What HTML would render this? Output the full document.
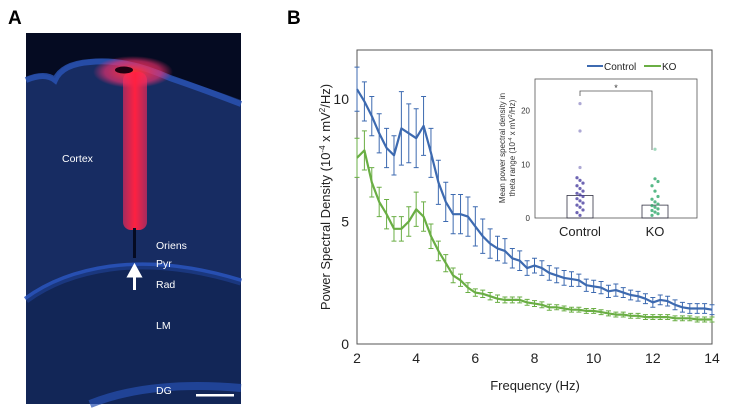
<!DOCTYPE html>
<html><head><meta charset="utf-8"><style>
body{margin:0;background:#fff;width:729px;height:414px;overflow:hidden;font-family:"Liberation Sans",sans-serif;}
</style></head><body>
<svg width="729" height="414" viewBox="0 0 729 414" xmlns="http://www.w3.org/2000/svg" font-family="Liberation Sans, sans-serif">
<defs>
<linearGradient id="redg" x1="0" x2="1"><stop offset="0" stop-color="#ff2a5a" stop-opacity="0.6"/><stop offset="0.5" stop-color="#ff2040"/><stop offset="1" stop-color="#ff2a5a" stop-opacity="0.6"/></linearGradient>
<radialGradient id="blob"><stop offset="0" stop-color="#ff3030"/><stop offset="0.7" stop-color="#ff3070" stop-opacity="0.6"/><stop offset="1" stop-color="#ff3070" stop-opacity="0"/></radialGradient>
</defs>
<text x="8" y="24" font-size="19" font-weight="bold">A</text>
<text x="287" y="24" font-size="19" font-weight="bold">B</text>
<g>
<rect x="26" y="33" width="215" height="371" fill="#172c62"/>
<path d="M26 33 H241 V100 Q200 85 170 76 Q120 55 85 60 Q60 64 55 78 Q40 70 26 78 Z" fill="#050b22"/>
<path d="M26 80 Q45 72 55 80 Q62 64 90 62 Q125 58 170 78 Q205 90 241 104" fill="none" stroke="#2a55b8" stroke-width="6" opacity="0.8"/>
<path d="M26 300 Q60 275 110 268 Q170 260 241 282" fill="none" stroke="#2a56c0" stroke-width="7" opacity="0.85"/>
<path d="M26 300 Q60 275 110 268 Q170 260 241 282 V404 H26 Z" fill="#0e1f4c" opacity="0.5"/>
<path d="M90 404 Q150 380 241 388" fill="none" stroke="#2650b0" stroke-width="8" opacity="0.7"/>
<ellipse cx="133" cy="72" rx="40" ry="16" fill="url(#blob)"/>
<rect x="123" y="72" width="24" height="158" rx="8" fill="url(#redg)"/>
<ellipse cx="124" cy="70" rx="9" ry="3.5" fill="#200010"/>
<rect x="133" y="228" width="3" height="30" fill="#050b22"/>
<path d="M134.5 290 V272 M129 276 L134.5 266 L140 276 Z" stroke="#fff" stroke-width="3" fill="#fff"/>
<rect x="196" y="394" width="38" height="2.5" fill="#fff"/>
<g fill="#fff" font-size="10.5">
<text x="62" y="162">Cortex</text>
<text x="156" y="249">Oriens</text>
<text x="156" y="267">Pyr</text>
<text x="156" y="288">Rad</text>
<text x="156" y="329">LM</text>
<text x="156" y="394">DG</text>
</g>
</g>
<g id="chart"></g>
</svg>
<script>
const freqs=[2,2.25,2.5,2.75,3,3.25,3.5,3.75,4,4.25,4.5,4.75,5,5.25,5.5,5.75,6,6.25,6.5,6.75,7,7.25,7.5,7.75,8,8.25,8.5,8.75,9,9.25,9.5,9.75,10,10.25,10.5,10.75,11,11.25,11.5,11.75,12,12.25,12.5,12.75,13,13.25,13.5,13.75,14];
const controlVals=[10.4,9.9,9.3,8.6,8.0,7.7,8.8,8.6,8.4,8.9,7.8,6.6,5.8,5.3,5.3,5.2,4.8,4.4,4.1,3.9,3.8,3.5,3.4,3.1,3.2,3.1,2.9,2.8,2.7,2.65,2.6,2.4,2.35,2.3,2.15,2.2,2.1,2.0,1.95,1.85,1.7,1.8,1.75,1.6,1.5,1.45,1.45,1.45,1.4];
const controlErr=[0.9,0.8,0.8,0.8,0.8,0.8,1.5,1.2,1.2,1.2,1.0,0.9,0.8,0.8,0.8,0.8,0.8,0.7,0.6,0.5,0.5,0.4,0.4,0.3,0.3,0.3,0.3,0.3,0.3,0.3,0.25,0.25,0.25,0.25,0.25,0.25,0.2,0.2,0.2,0.2,0.2,0.2,0.2,0.2,0.2,0.2,0.2,0.2,0.2];
const koVals=[7.6,7.9,6.6,5.8,5.3,4.7,4.7,5.0,5.5,5.2,4.4,3.8,3.3,2.8,2.6,2.3,2.1,2.05,1.95,1.85,1.8,1.8,1.8,1.7,1.65,1.6,1.5,1.5,1.45,1.4,1.4,1.35,1.35,1.3,1.25,1.2,1.2,1.15,1.15,1.1,1.1,1.1,1.1,1.05,1.05,1.05,1.0,1.0,1.0];
const koErr=[0.8,0.8,0.6,0.6,0.6,0.5,0.5,0.6,0.7,0.6,0.5,0.4,0.35,0.3,0.25,0.2,0.15,0.15,0.15,0.15,0.12,0.12,0.12,0.12,0.12,0.12,0.12,0.1,0.1,0.1,0.1,0.1,0.1,0.1,0.1,0.1,0.1,0.1,0.1,0.1,0.1,0.1,0.1,0.1,0.1,0.1,0.1,0.1,0.1];
const xTicks=[2,4,6,8,10,12,14];
const yTicks=[0,5,10];
const insetGroups=["Control","KO"];
const insetMeans=[4.2,2.4];
const insetTicks=[0,10,20];
const controlPts=[21.3,16.2,9.4,7.5,7.0,6.5,6.0,5.5,5.0,4.6,4.3,4.0,3.6,3.2,2.8,2.4,2.0,1.5,1.0,0.5];
const koPts=[12.8,7.3,6.8,6.0,5.0,4.0,3.5,3.0,2.6,2.3,2.0,1.7,1.4,1.1,0.8,0.5];
const NS="http://www.w3.org/2000/svg";
const g=document.getElementById('chart');
function mk(t,a,p){const e=document.createElementNS(NS,t);for(const k in a)e.setAttribute(k,a[k]);(p||g).appendChild(e);return e;}
const X=f=>357+(f-2)*(355/12), Y=v=>344-v*24.5;
let e;
e=mk('rect',{x:357,y:50,width:355,height:294,fill:'none',stroke:'#555','stroke-width':1});


xTicks.forEach(t=>{e=mk('text',{x:X(t),y:363,'font-size':14,'text-anchor':'middle',fill:'#222'});e.textContent=t;

});
yTicks.forEach(t=>{e=mk('text',{x:349,y:Y(t)+5,'font-size':14,'text-anchor':'end',fill:'#222'});e.textContent=t;

});
e=mk('text',{x:535,y:390,'font-size':13,'text-anchor':'middle',fill:'#222'});e.textContent='Frequency (Hz)';


e=mk('text',{x:0,y:0,'font-size':13,'text-anchor':'middle',fill:'#222',transform:'translate(330,197) rotate(-90)'});
e.innerHTML='Power Spectral Density (10<tspan dy="-5" font-size="8">-4</tspan><tspan dy="5"> x mV</tspan><tspan dy="-5" font-size="8">2</tspan><tspan dy="5">/Hz)</tspan>';


function series(vals,errs,col,name){
 const sg=mk('g',{});
 
 
 freqs.forEach((f,i)=>{const x=X(f);const y1=Y(vals[i]+errs[i]),y2=Y(vals[i]-errs[i]);
  mk('path',{d:`M${x} ${y1}V${y2}M${x-2.5} ${y1}H${x+2.5}M${x-2.5} ${y2}H${x+2.5}`,stroke:col,'stroke-width':1,fill:'none'},sg);});
 mk('path',{d:'M'+freqs.map((f,i)=>X(f).toFixed(1)+' '+Y(vals[i]).toFixed(1)).join('L'),stroke:col,'stroke-width':2.2,fill:'none','stroke-linejoin':'round'},sg);
}
series(controlVals,controlErr,'#3d6ab0','control-series');
series(koVals,koErr,'#6aae44','ko-series');
e=mk('path',{d:'M587 66H603',stroke:'#3d6ab0','stroke-width':2});


e=mk('text',{x:604,y:70,'font-size':10,fill:'#222'});e.textContent='Control';


e=mk('path',{d:'M644 66H661',stroke:'#6aae44','stroke-width':2});


e=mk('text',{x:662,y:70,'font-size':10,fill:'#222'});e.textContent='KO';


const IY=v=>218-v*5.37, IX=[580,655];
e=mk('rect',{x:535,y:79,width:162,height:139,fill:'#fff',stroke:'#555','stroke-width':0.8});


insetTicks.forEach(t=>{e=mk('text',{x:530,y:IY(t)+3,'font-size':8,'text-anchor':'end',fill:'#333'});e.textContent=t;

});
insetMeans.forEach((m,i)=>{e=mk('rect',{x:IX[i]-13,y:IY(m),width:26,height:218-IY(m),fill:'none',stroke:'#334',"stroke-width":0.8});


e=mk('text',{x:IX[i],y:236,'font-size':13,'text-anchor':'middle',fill:'#222'});e.textContent=insetGroups[i];

});
[[controlPts,'#4a3fa0',0],[koPts,'#2ea86a',1]].forEach(([pts,c,i])=>pts.forEach((v,j)=>{
 const x=IX[i]+((j%3)-1)*(v<8?3:0);
 e=mk('circle',{cx:x,cy:IY(v),r:1.6,fill:c,opacity:v>8?0.45:0.8});
 
 }));
e=mk('path',{d:`M580 96V91H652V150`,stroke:'#555','stroke-width':0.8,fill:'none'});


e=mk('text',{x:616,y:91,'font-size':9,'text-anchor':'middle',fill:'#333'});e.textContent='*';


e=mk('text',{x:0,y:0,'font-size':8,'text-anchor':'middle',fill:'#333',transform:'translate(505,148) rotate(-90)'});e.textContent='Mean power spectral density in';


e=mk('text',{x:0,y:0,'font-size':8,'text-anchor':'middle',fill:'#333',transform:'translate(515,148) rotate(-90)'});
e.innerHTML='theta range (10<tspan dy="-3" font-size="5">-4</tspan><tspan dy="3"> x mV</tspan><tspan dy="-3" font-size="5">2</tspan><tspan dy="3">/Hz)</tspan>';


</script>
</body></html>
